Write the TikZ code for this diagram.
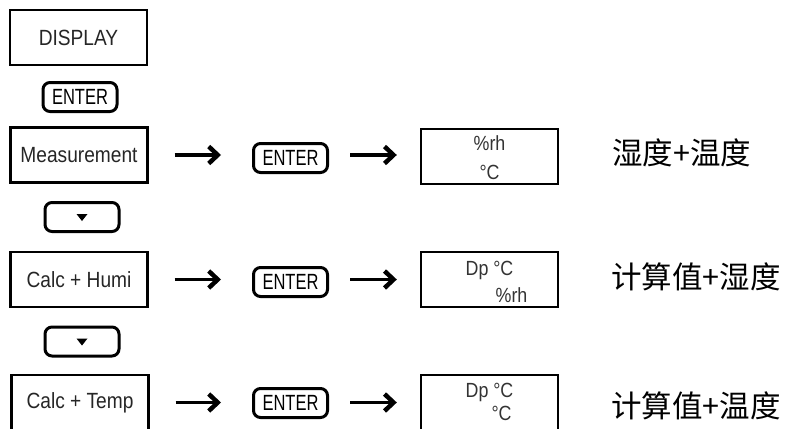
\documentclass[tikz,border=0pt]{standalone}
\usepackage{fontspec}
\usetikzlibrary{arrows.meta}
\newfontfamily\narrowsf[FakeStretch=0.87]{Liberation Sans}
\newfontfamily\keysf[FakeStretch=0.75]{Liberation Sans}
\newfontfamily\cjk{Noto Sans CJK SC}
\begin{document}
\begin{tikzpicture}[x=1pt,y=-1pt,
  menubox/.style={draw, line width=2.4pt, minimum width=137pt, minimum height=55pt,
    inner sep=0pt, text=black!85, font=\narrowsf\fontsize{22}{22}\selectfont},
  keybox/.style={draw, line width=3pt, rounded corners=7pt, minimum width=74pt,
    minimum height=29pt, inner sep=0pt, font=\keysf\fontsize{22}{22}\selectfont},
  readout/.style={inner sep=0pt, text=black!80, font=\narrowsf\fontsize{20.5}{20.5}\selectfont},
  cjklabel/.style={anchor=west, inner sep=0pt, font=\cjk\fontsize{30.5}{30.5}\selectfont},
  flow/.style={line width=3.2pt, -{Straight Barb[length=9pt,width=17pt,line width=4.5pt]}}]
\path[use as bounding box, clip] (0,0) rectangle (786,428);

% left column: menu entries and keys
\node[menubox] (disp) at (78.5,37.5) {DISPLAY};
\node[keybox] (ent0) at (80,97) {ENTER};
\node[menubox] (meas) at (79,155) {Measurement};
\node[keybox] (dn1) at (82,217) {};
\node[menubox] (hum) at (79,279.5) {Calc + Humi};
\node[keybox] (dn2) at (82,341.5) {};
\node[menubox] (tmp) at (80,402.5) {Calc + Temp};

% down-arrow glyphs on the cursor keys
\fill (dn1.center) ++(-5.5,-3) -- ++(11,0) -- ++(-5.5,7) -- cycle;
\fill (dn2.center) ++(-5.5,-3) -- ++(11,0) -- ++(-5.5,7) -- cycle;

% ENTER keys in the middle column
\node[keybox] (ent1) at (290.5,158) {ENTER};
\node[keybox] (ent2) at (290.5,282) {ENTER};
\node[keybox] (ent3) at (290.5,403) {ENTER};

% display readouts
\node[menubox] (rd1) at (489.5,156.5) {};
\node[menubox] (rd2) at (489.5,279.5) {};
\node[menubox] (rd3) at (489.5,402.5) {};
\node[readout] (rd1a) at ([yshift=13.5pt]rd1.center) {\%rh};
\node[readout] (rd1b) at ([yshift=-15.5pt]rd1.center) {°C};
\node[readout] (rd2a) at ([yshift=9.5pt]rd2.center) {Dp °C};
\node[readout] (rd2b) at ([xshift=22pt,yshift=-15.5pt]rd2.center) {\%rh};
\node[readout] (rd3a) at ([yshift=10.5pt]rd3.center) {Dp °C};
\node[readout] (rd3b) at ([xshift=12pt,yshift=-11pt]rd3.center) {°C};

% descriptions
\node[cjklabel] (lab1) at (612,153) {湿度+温度};
\node[cjklabel] (lab2) at (611,277) {计算值+湿度};
\node[cjklabel] (lab3) at (611,406) {计算值+温度};

% flow arrows: menu entry -> ENTER -> readout
\foreach \a/\b/\c in {meas/ent1/rd1, hum/ent2/rd2, tmp/ent3/rd3}{
  \draw[flow, shorten <=26pt, shorten >=31pt] (\a.east) -- (\a.east -| \b.west);
  \draw[flow, shorten <=21pt, shorten >=23pt] (\b.east |- \a.east) -- (\a.east -| \c.west);
}
\end{tikzpicture}
\end{document}
